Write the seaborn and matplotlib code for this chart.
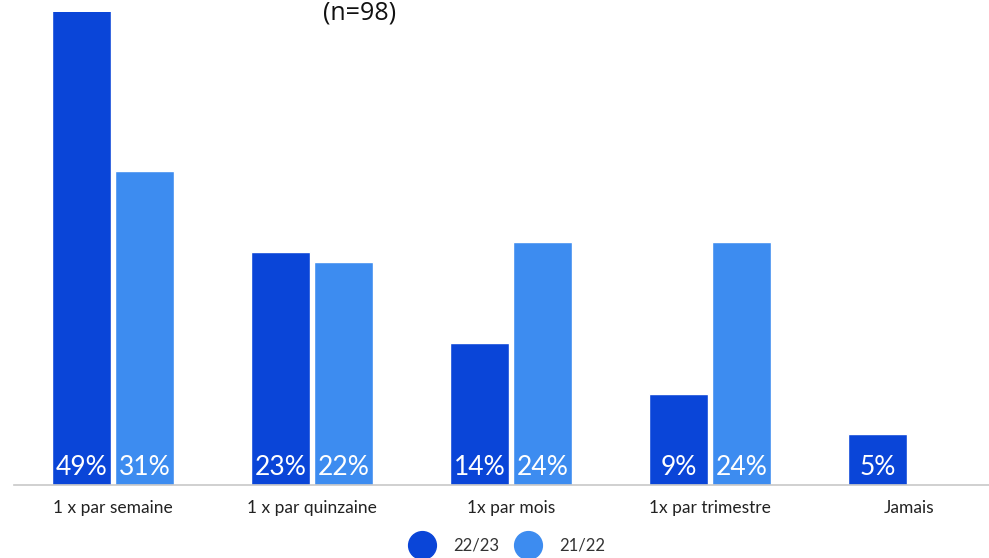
import numpy as np
import pandas as pd
import matplotlib
matplotlib.use('Agg')
import matplotlib.pyplot as plt
from matplotlib.lines import Line2D
import seaborn as sns

# données
categories = ['1 x par semaine', '1 x par quinzaine', '1x par mois', '1x par trimestre', 'Jamais']
series = ['22/23', '21/22']
vals_2223 = [49, 23, 14, 9, 5]
vals_2122 = [31, 22, 24, 24, np.nan]
colors = ['#0a45d8', '#3d8cf0']

df = pd.DataFrame({
    'Fréquence': categories * 2,
    'Année': [series[0]] * len(categories) + [series[1]] * len(categories),
    'Pourcentage': vals_2223 + vals_2122,
})

sns.set_style("white")
plt.rcParams['font.family'] = ['Lato', 'DejaVu Sans']

fig = plt.figure(figsize=(9.89, 5.58), dpi=100)
ax = fig.add_axes([13.5 / 989, 1 - 485 / 558, 995 / 989, 473 / 558])

sns.barplot(data=df, x='Fréquence', y='Pourcentage', hue='Année',
            hue_order=series, palette=colors, width=0.63, gap=0.06,
            saturation=1, legend=False, ax=ax)

ax.set_ylim(0, 46.7)
ax.set_xlim(-0.5, 4.5)
ax.set_xlabel('')
ax.set_ylabel('')
ax.set_yticks([])
for s in ['top', 'left', 'right']:
    ax.spines[s].set_visible(False)
ax.spines['bottom'].set_color('#c8c8c8')
ax.spines['bottom'].set_linewidth(1.2)
ax.tick_params(axis='x', length=0, pad=11, labelsize=12.5, colors='#222222')

# étiquettes de valeur en bas des barres
for cont, vals in zip(ax.containers, [vals_2223, vals_2122]):
    for bar, v in zip(cont, vals):
        if np.isnan(v):
            continue
        ax.text(bar.get_x() + bar.get_width() / 2, 0.5, f"{v:.0f}%",
                ha='center', va='bottom', color='white', fontsize=19)

fig.text(0.364, 0.977, '(n=98)', ha='center', va='center', fontsize=18,
         family=['Open Sans', 'DejaVu Sans'], color='#111111')

handles = [Line2D([0], [0], marker='o', linestyle='', markersize=20,
                  markerfacecolor=c, markeredgecolor=c) for c in colors]
fig.legend(handles, series, loc='center', bbox_to_anchor=(0.511, 0.022),
           ncol=2, frameon=False, fontsize=12, handletextpad=0.9,
           columnspacing=0.7, labelcolor='#333333')

fig.savefig('out.png', dpi=100)
